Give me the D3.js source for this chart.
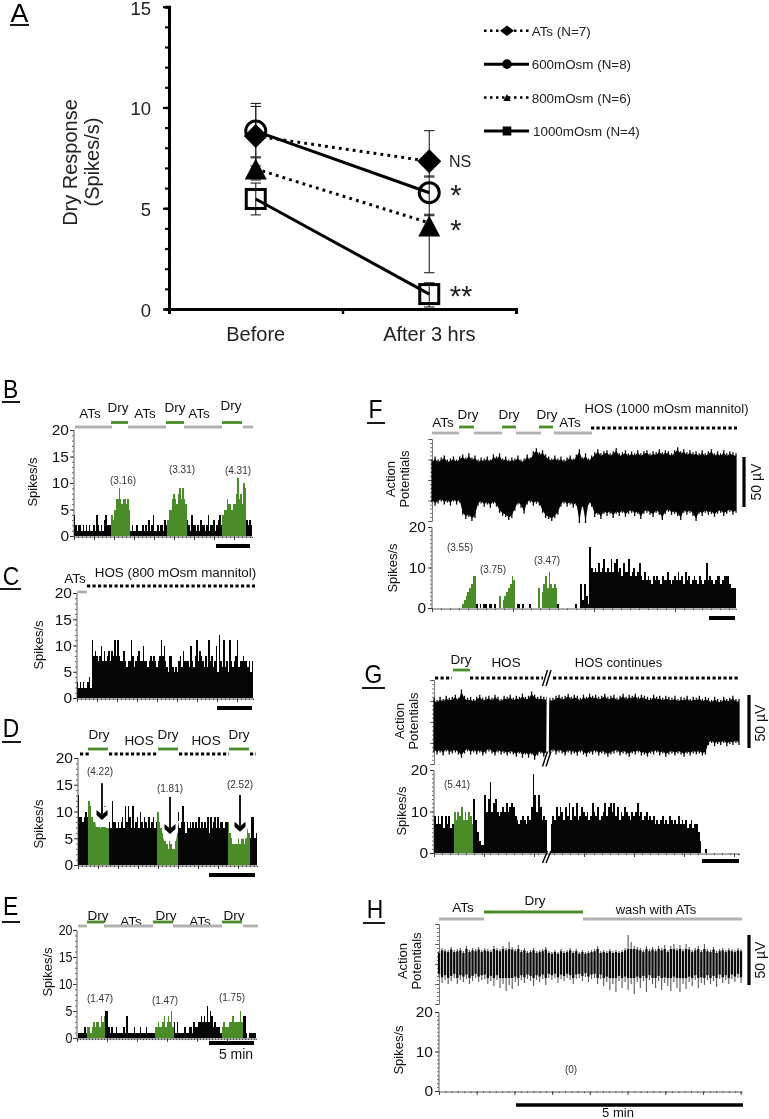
<!DOCTYPE html>
<html><head><meta charset="utf-8">
<script src="https://cdn.jsdelivr.net/npm/d3@7"></script>
<style>html,body{margin:0;padding:0;background:#fff}svg{display:block;filter:blur(.4px)}text{font-family:"Liberation Sans",Arial,sans-serif;fill:#111}</style>
</head><body><svg id="c" width="769" height="1119"></svg>
<script>
// ---------- Panel A data ----------
const conditions = ["Before","After 3 hrs"];
const seriesNames = ["ATs (N=7)","600mOsm (N=8)","800mOsm (N=6)","1000mOsm (N=4)"];
const atsMean=[8.58,7.33], atsHi=[10.05,8.85], atsLo=[7.1,6.55];
const m600Mean=[8.83,5.77], m600Hi=[10.2,6.6], m600Lo=[7.5,4.63];
const m800Mean=[6.95,4.27], m800Hi=[7.55,4.7], m800Lo=[6.4,1.8];
const m1000Mean=[5.46,0.74], m1000Hi=[6.25,1.3], m1000Lo=[4.67,0.1];
const yTicksA=[0,5,10,15];
// ---------- Histograms (spikes/s per bin) ----------
const binsB=[4,2,1,2,2,1,2,1,2,1,2,1,1,2,1,4,2,1,2,1,3,4,2,2,2,4, 3,5,7,7,9,7,6,7,7,6,7,5, 1,2,1,1,2,1,1,1,2,1,2,1,3,1,2,4,1,1,2,1,2,2,1,3,2, 3,5,5,7,8,7,6,8,9,7,9,7,6, 3,2,1,4,2,2,1,2,1,3,2,2,1,2,4,1,2,2,3,1,2,3,4,2, 4,5,5,7,6,6,5,6,6,8,11,7,8,6,10,9, 3,2,3,2];
const binsC=[3,2,3,2,3,2,2,3,4,2, 11,8,9,8,7,8,10,7,9,7,8,9,7,9,8,11,8,11,8,7,7,9,7,6,7,7,11,8,6,7,8,9,7,7,10,7,7,6,7,8,7,8,7,6,7,8,11,8,10,7,6,5,8,8,6,5,6,5,7,8,6,9,7,7,7,6,10,7,6,8,11,7,9,8,7,6,8,6,11,7,8,6,7,10,5,12,7,6,11,6,7,5,11,7,6,7,8,11,6,7,7,8,7,7,6,7,5,7];
const binsD=[13,9,9,8,9,10,9, 12,11,9,8,8,8,9,8,7,8,8,11,7,7, 8,7,12,8,8,7,8,7,8,9,7,11,8,11,9,7,11,7,8,9,7,10,8,7,9,8,7,9,7,8,9,7,8, 10,8,7,6,5,5,4,3,5,4,3,3,5,6, 10,7,8,11,8,6,8,7,8,7,8,7,8,7,9,7,8,7,8,7,9,6,9,7,8,9,7,9,7,8,8,7,8,8, 8,6,5,4,4,4,4,5,4,6,5,4,5,7,6, 5,9,9,5,6];
const binsE=[0,1,1,1,1,2,1, 2,2,1,2,3,2,3,3,2,4,3,4, 5,5,2,1,2,1,1,2,1,1,1,1,2,1,4,1,1,1,1,2,1,1,1,2,1,1,1,2,1,1,1,1,1, 2,2,3,2,2,3,4,2,3,4,3,5,2, 3,1,3,1,1,1,1,2,1,1,2,2,1,3,2,2,3,3,4,3,4,3,6,3,5,4,2,3,2,2,2,1, 2,3,2,2,2,3,3,4,3,3,3,3,5,3, 4,4,1,0,1,1,1,1,1];
const binsF=[0,0,0,0,0,0,0,0,0,0,0,0,0,0,0,0,0, 1,2,3,4,5,6,8,8, 1,0,1,0,1,1,0,1,1,0,1,0,0, 3,0,2,3,4,5,6,8,7, 0,1,1,0,1,0,0,0,1,0,0,0,0, 5,0,4,6,8,5,9,6,5,6,5, 1,0,0,0,0,0,0,0,0,0,1,0,0,6,2,6,3,1, 15,10,9,10,9,11,9,10,12,9,10,9,12,9,11,12,9,10,8,11,9,9,12,8,9,10,8,9,11,8,7,9,7,8,7,6,8,7,8,7,6,8,7,7,9,7,6,7,8,7,9,7,8,6,9,7,8,6,7,8,7,6,8,7,6,7,11,7,8,7,6,7,8,8,6,7,8,8,8,6,5,5,5];
const binsG=[9,7,9,7,9,6,9,7,9,6,7, 10,8,10,9,11,8,10,8,10,9,7, 13,8,5,3,2,2, 14,10,13,17,10,12,13,10,9,10,11,10,12,10,11,12,11,9,8,7,8,9,8,7,9,8,11,19,14,10,14,11,8,9, 8,0,0, 7,9,8,11,9,11,10,8,11,9,12,8,11,9,12,8,9,11,10,9,10,8,9,12,10,9,11,8,9,10,12,9,11,12,10,12,9,11,8,10,9,11,10,9,8,10,9,10,12,9,10,8,9,10,8,9,8,9,7,8,7,8,9,7,8,7,9,8,7,8,7,9,7,8,7,8,6,7,8,6,7,7,5,3, 0,0,1,0,0,0,0,0,0,0,0,0,0,0,0,0,0,0,0,0,0];
const binsH=[];
// Dry windows, in time units on each panel's x axis
const dryB=[[37.5,56.5],[93,112.5],[148,171.5]];
const dryD=[[10,31],[79.5,100.5],[149,171.5]];
const dryE=[[10,28.5],[77,97],[144.5,165.5]];
const dryF=[[30,44],[67,84],[106,126]];
const dryG=[[19.5,39]];
// Treatment header bars: [kind, start, end]
const headB=[["ats",1,38],["dry",37,54],["ats",54,92],["dry",92,110],["ats",110,148],["dry",148,168],["ats",169,179]];
const headC=[["ats",0,10],["hos",10,178]];
const headD=[["hos",2,12],["dry",10,30],["hos",31,80],["dry",80,100],["hos",101,151],["dry",151,171],["hos",172,178]];
const headE=[["ats",1,10],["dry",10,27],["ats",27,76],["dry",76,96],["ats",96,145],["dry",145,165],["ats",166,181]];
const headF=[["ats",0,27],["dry",27,42],["ats",42,70],["dry",70,84],["ats",84,109],["dry",107,121],["ats",122,160],["hos",159,305]];
const headG=[["hos",1,18],["dry",19,36],["hos",36,109],["hos",119,304]];
const headH=[["ats",0,45],["dry",45,144],["ats",144,303]];
// Arrows in panel D: [time, from spikes/s, to spikes/s]
const arrowsD=[[24,15.3,8.4],[92,12.7,5.8],[162,13.1,6.2]];
// Voltage traces: upper / lower envelope (µV)
const upperF=[20,23,20,22,24,20,21,23,20,23,25,22,26,22,24,20,22,21,23,20,25,23,26,21,23,20,22,21,24,20,21,25,22,28,31,27,29,25,23,21,24,21,23,20,22,24,21,25,30,22,26,21,24, 27,30,26,28,29,26,28,31,26,27,29,26,28,26,29,26,28,29,26,28,27,30,27,29,28,26,29,32,28,30,27,29,27,28,26,29,26,28,30,26,28,26,29,26,28,27,26];
const lowerF=[-22,-25,-23,-21,-24,-22,-25,-21,-24,-22,-34,-38,-36,-40,-37,-25,-23,-26,-24,-27,-23,-26,-32,-35,-36,-39,-37,-30,-24,-27,-33,-24,-22,-25,-23,-25,-32,-37,-38,-40,-37,-34,-26,-23,-26,-24,-27,-25,-42,-26,-42,-24,-26, -36,-34,-38,-33,-35,-33,-37,-33,-35,-32,-36,-33,-32,-35,-33,-38,-33,-32,-34,-36,-32,-34,-39,-33,-31,-34,-33,-35,-39,-32,-34,-32,-35,-40,-33,-35,-32,-34,-33,-36,-33,-32,-35,-33,-31,-34,-32];
const upperG=[23,21,24,22,25,23,24,26,23,31,25,23,24,22,24,26,23,24,25,23,26,24,22,25,24,26,23,25,24,27,24,25,29,26,24,25,24,24,23, 23,25,26,24,25,27,24,26,25,23,26,24,27,25,26,24,25,27,24,25,26,23,25,27,24,26,25,27,24,26,25,24,23,26,24,25,23,25,24,23,25,22,24,23,25,22,24,23,25,22,24, 23,21,24,22,21,24,22,23,25,22,22];
const lowerG=[-29,-31,-29,-32,-28,-31,-30,-29,-31,-34,-30,-28,-31,-29,-31,-29,-32,-30,-28,-30,-32,-29,-31,-30,-32,-30,-31,-33,-30,-34,-31,-34,-31,-36,-32,-30,-33,-31,-31, -28,-31,-29,-30,-32,-29,-31,-30,-32,-29,-31,-33,-30,-31,-29,-32,-30,-31,-33,-31,-30,-29,-32,-30,-31,-33,-30,-31,-29,-32,-31,-33,-30,-31,-29,-32,-30,-33,-31,-30,-32,-30,-31,-33,-30,-32,-30,-31,-30,-32,-31, -22,-20,-23,-21,-22,-20,-23,-21,-22,-20,-22];
const upperH=[13,16,15,14,17,14,15,16,13,18,14,16,15,17,14,16,15,14,18,16,15,18,16,22,17,15,19,14,16,13,14,16,13,14,15,17,13,12,14,12,15,13,14,16,13,15,12,14,12,13,14,15,18,13,14,13,15,13,14,13,14,16,29,22,18,17,16,14,18,15,17,15,18,16,19,14,18,20,16,19,15,20,17,14,16,18,14,20,15,14,17,13,15,16,14,16,15,14,16,15];
const lowerH=[-14,-19,-16,-20,-17,-14,-20,-16,-18,-15,-20,-17,-14,-18,-16,-15,-20,-17,-22,-16,-24,-20,-27,-21,-25,-18,-22,-16,-19,-15,-17,-22,-16,-18,-15,-21,-14,-16,-14,-19,-15,-17,-14,-16,-20,-15,-14,-17,-13,-18,-15,-14,-20,-15,-22,-18,-26,-20,-28,-17,-24,-18,-26,-20,-30,-18,-24,-17,-28,-16,-20,-24,-17,-26,-19,-22,-27,-18,-24,-28,-20,-25,-18,-22,-16,-24,-19,-21,-16,-20,-17,-23,-15,-19,-16,-20,-15,-18,-14,-19];

const svg=d3.select("#c");
const GRAY="#b1b1b1",GREEN="#4a8c28",DARK="#050505";

function label(x,y,s,o={}){
  const size=o.size||13.5,sx=o.sx||1,rot=o.rot||0;
  return svg.append("text").attr("transform",`translate(${x},${y})`+(rot?` rotate(${rot})`:"")+` scale(${sx},1)`)
    .attr("text-anchor",o.anchor||"middle").attr("font-size",size).style("fill",o.fill||"#111").text(s);
}
function rule(x1,y1,x2,y2,w,c){svg.append("line").attr("x1",x1).attr("y1",y1).attr("x2",x2).attr("y2",y2).attr("stroke",c||"#000").attr("stroke-width",w||1);}
function letter(s,x,base,ux1,ux2,uy,size,sx){label(x,base,s,{size:size||26,sx:sx||.88,fill:"#000"});rule(ux1,uy,ux2,uy,1.8);}

// ---------- Panel A ----------
(function(){
  const y=d3.scaleLinear([0,15],[309,6.7]);
  const band=d3.scaleBand(conditions,[169,516]);
  const edge=d3.scaleLinear([0,2],[169,516]);
  const g=svg.append("g");
  const mi=g.append("g").attr("transform","translate(169,0)").call(d3.axisLeft(y).tickValues(d3.range(0,16)).tickSize(4).tickFormat(""));
  mi.selectAll("path").attr("stroke-width",3).attr("stroke","#000");
  mi.selectAll("line").attr("stroke-width",2.2).attr("stroke","#111");
  const ma=g.append("g").attr("transform","translate(169,0)").call(d3.axisLeft(y).tickValues(yTicksA).tickSize(6).tickPadding(12));
  ma.select("path").remove();ma.selectAll("line").attr("stroke-width",2.2);
  ma.selectAll("text").attr("font-size",18.5).attr("font-family",null).attr("dy","0.4em").style("fill","#222");
  const xa=g.append("g").attr("transform","translate(0,309)").call(d3.axisBottom(edge).tickValues([0,1,2]).tickSize(5).tickFormat(""));
  xa.selectAll("path").attr("stroke-width",3);xa.selectAll("line").attr("stroke-width",2.4);
  conditions.forEach(c=>label(band(c)+band.bandwidth()/2,341,c,{size:20,fill:"#222"}));
  label(76.5,162.5,"Dry Response",{size:20,rot:-90,fill:"#222"});
  label(99,162,"(Spikes/s)",{size:20,rot:-90,fill:"#222"});
  const cx=c=>band(c)+band.bandwidth()/2;
  const line=d3.line().x((d,i)=>cx(conditions[i])).y(d=>y(d));
  const series=[
    {m:atsMean,hi:atsHi,lo:atsLo,dash:"2.8 4.2",shape:"d"},
    {m:m800Mean,hi:m800Hi,lo:m800Lo,dash:"2.8 4.2",shape:"t"},
    {m:m1000Mean,hi:m1000Hi,lo:m1000Lo,dash:null,shape:"s"},
    {m:m600Mean,hi:m600Hi,lo:m600Lo,dash:null,shape:"c"}];
  series.forEach(s=>s.m.forEach((v,i)=>{
    const x=cx(conditions[i]);
    rule(x,y(s.lo[i]),x,y(s.hi[i]),1.1,"#222");
    [s.lo[i],s.hi[i]].forEach(u=>rule(x-5.2,y(u),x+5.2,y(u),1.1,"#222"));
  }));
  function marker(shape,x,yy,hw,hh){
    if(shape=="d")svg.append("path").attr("d",`M${x},${yy-hh}L${x+hw},${yy}L${x},${yy+hh}L${x-hw},${yy}Z`).attr("fill","#000");
    if(shape=="t")svg.append("path").attr("d",`M${x},${yy-hh}L${x+hw},${yy+hh}L${x-hw},${yy+hh}Z`).attr("fill","#000");
    if(shape=="s")svg.append("rect").attr("x",x-hw+1.5).attr("y",yy-hh+1.5).attr("width",2*hw-3).attr("height",2*hh-3).attr("fill","none").attr("stroke","#000").attr("stroke-width",3);
    if(shape=="c")svg.append("ellipse").attr("cx",x).attr("cy",yy).attr("rx",hw-1.5).attr("ry",hh-1.5).attr("fill","none").attr("stroke","#000").attr("stroke-width",3);
  }
  const bigSize={d:[12,12],c:[11.5,11.5],t:[11,10.5],s:[11,11]};
  [series[3],series[0],series[1],series[2]].forEach(s=>{
    s.m.forEach((v,i)=>marker(s.shape,cx(conditions[i]),y(v)-(s.shape=="t"&&i==1?-3:0),...bigSize[s.shape]));
    svg.append("path").attr("d",line(s.m)).attr("fill","none").attr("stroke","#000").attr("stroke-width",3).attr("stroke-dasharray",s.dash);
  });
  label(449,166.7,"NS",{size:16,anchor:"start",fill:"#222"});
  label(456,205,"*",{size:29,fill:"#222"});label(456,240,"*",{size:29,fill:"#222"});label(461,306,"**",{size:29,fill:"#222"});
  const legY=d3.scalePoint(seriesNames,[30.7,131]);
  const shapes=["d","c","t","s"],dashes=["2.5 3.5",null,"2.5 3.5",null];
  const legSize={d:[7,5.3],c:[4.8,4.8],t:[3.7,3.5],s:[4.3,4.5]};
  seriesNames.forEach((n,i)=>{
    const yy=legY(n);
    svg.append("line").attr("x1",484).attr("x2",529).attr("y1",yy).attr("y2",yy).attr("stroke","#000").attr("stroke-width",dashes[i]?2.4:3).attr("stroke-dasharray",dashes[i]);
    if(shapes[i]=="c")svg.append("circle").attr("cx",507).attr("cy",yy).attr("r",4.8);
    else if(shapes[i]=="s")svg.append("rect").attr("x",507-4.3).attr("y",yy-4.5).attr("width",8.6).attr("height",9);
    else marker(shapes[i],507,yy,...legSize[shapes[i]]);
    label(i==3?533:531.7,yy+5,n,{size:13.4,anchor:"start",fill:"#222"});
  });
})();
letter("A",19.5,21.7,10,29,25,26,1.03);

// ---------- Histogram + header helpers ----------
function header(segs,x,rows){
  segs.forEach(([k,a,b])=>{
    const l=svg.append("line").attr("x1",x(a)).attr("x2",x(b)).attr("y1",rows[k]).attr("y2",rows[k])
      .attr("stroke",k=="ats"?GRAY:k=="dry"?GREEN:"#000").attr("stroke-width",k=="hos"?3:2.8);
    if(k=="hos")l.attr("stroke-dasharray","3.2 2.3");
  });
}
function hist(o){
  const {bins,dry,T,x0,y20,y0}=o;
  const x=d3.scaleLinear([0,T],[x0,x0+T]);
  const y=d3.scaleLinear([0,20],[y0,y20]);
  const w=T/(bins.length||1);
  const isDry=t=>(dry||[]).some(([a,b])=>t>=a&&t<b);
  svg.append("g").attr("shape-rendering","crispEdges").selectAll("rect").data(bins).join("rect")
    .attr("x",(d,i)=>x(i*w)).attr("width",w).attr("y",d=>y(d)).attr("height",d=>y(0)-y(d))
    .attr("fill",(d,i)=>isDry((i+.5)*w)?GREEN:DARK);
  const axC="#333";
  const ymin=svg.append("g").attr("transform",`translate(${x0-.5},0)`).call(d3.axisLeft(y).tickValues(d3.range(0,21,1)).tickSize(1.5).tickFormat(""));
  ymin.selectAll("path,line").attr("stroke",axC).attr("stroke-width",.8);
  const ymaj=svg.append("g").attr("transform",`translate(${x0-.5},0)`).call(d3.axisLeft(y).tickValues(o.major).tickSize(3.5).tickPadding(o.pad||1));
  ymaj.select("path").remove();ymaj.selectAll("line").attr("stroke",axC);
  const tl=ymaj.selectAll("text").attr("font-size",o.fs||15.5).style("fill","#111");
  if(o.tsx)tl.attr("transform",`scale(${o.tsx},1)`).attr("x",-(3.5+(o.pad||1))/o.tsx);
  const xa=svg.append("g").attr("transform",`translate(0,${y0+.5})`).call(d3.axisBottom(x).tickValues(d3.range(0,T+1,o.xminor||6)).tickSize(1.6).tickFormat(""));
  xa.selectAll("path,line").attr("stroke",axC).attr("stroke-width",.8);
  const xb=svg.append("g").attr("transform",`translate(0,${y0+.5})`).call(d3.axisBottom(x).tickValues(d3.range(0,T+1,o.xmajor||30)).tickSize(3.5).tickFormat(""));
  xb.select("path").remove();xb.selectAll("line").attr("stroke",axC).attr("stroke-width",.9);
  return {x,y};
}
function trace(upper,lower,x0,T,yTop,yBot){
  const x=d3.scaleLinear([0,T],[x0,x0+T]);
  const y=d3.scaleLinear([-40,40],[yBot,yTop]);
  const w=T/(upper.length-1);
  const ax=svg.append("g").attr("transform",`translate(${x0},0)`).call(d3.axisLeft(y).tickValues(d3.range(-40,41,4)).tickSize(2).tickFormat(""));
  ax.selectAll("path,line").attr("stroke","#555").attr("stroke-width",.8);
  const bx=svg.append("g").attr("transform",`translate(${x0},0)`).call(d3.axisLeft(y).tickValues(d3.range(-40,41,20)).tickSize(4).tickFormat(""));
  bx.select("path").remove();bx.selectAll("line").attr("stroke","#444").attr("stroke-width",.8);
  return {x,y,w};
}
// dense trace: a solid inner band plus one thin vertical stroke per sample, so the edge stays jagged
function denseTrace(t,upper,lower){
  const inner=d3.area().x((d,i)=>t.x(i*t.w)).y1(d=>t.y(d-2.5)).y0((d,i)=>t.y(lower[i]+2.5));
  svg.append("path").attr("d",inner(upper)).attr("fill",DARK);
  svg.append("g").selectAll("line").data(upper).join("line")
    .attr("x1",(d,i)=>t.x(i*t.w)).attr("x2",(d,i)=>t.x(i*t.w)).attr("y1",d=>t.y(d)).attr("y2",(d,i)=>t.y(lower[i]))
    .attr("stroke",DARK).attr("stroke-width",1.3);
}
function scaleBar(x1,x2,yy,th){rule(x1,yy,x2,yy,th||4);}
function spikesLabel(x,y,s){label(x+3.5,y,s||"Spikes/s",{size:13,rot:-90,fill:"#111"});}
function apLabel(x1,x2,y){label(x1+3.5,y,"Action",{size:13,rot:-90});label(x2+3.5,y,"Potentials",{size:13,rot:-90});}
function note(x,y,s){label(x,y,s,{size:10,fill:"#333"});}
function uv(xb,y1,y2,xt,yt){rule(xb,y1,xb,y2,3.2);label(xt,yt,"50 µV",{size:14,rot:-90});}

// ---------- B ----------
(function(){
  const {x}=hist({bins:binsB,dry:dryB,T:178,x0:74,y20:430,y0:536,major:[0,5,10,15,20],xminor:4,xmajor:20});
  header(headB,x,{ats:427,dry:422.5});
  label(90,418,"ATs");label(118,412,"Dry");label(145,418,"ATs");label(175,412,"Dry");label(199,418,"ATs");label(231,410,"Dry");
  note(123,484,"(3.16)");note(182,473,"(3.31)");note(238,474,"(4.31)");
  scaleBar(216,250,546);spikesLabel(33,482);
})();
letter("B",10.5,398,2,20,402);
// ---------- C ----------
(function(){
  const {x}=hist({bins:binsC,T:176,x0:77,y20:593,y0:698,major:[0,5,10,15,20],xminor:4,xmajor:20});
  header(headC,x,{ats:592,hos:586});
  label(75,583,"ATs");label(175.5,577,"HOS (800 mOsm mannitol)",{size:13.4});
  scaleBar(217,252,708);spikesLabel(39,645);
})();
letter("C",11,585,0,21,589);
// ---------- D ----------
(function(){
  const {x,y}=hist({bins:binsD,dry:dryD,T:179,x0:78,y20:758,y0:865,major:[0,5,10,15,20],xminor:4,xmajor:20,pad:1});
  header(headD,x,{hos:754,dry:749});
  label(99,739,"Dry");label(139,745,"HOS");label(168,739,"Dry");label(206,745,"HOS");label(239,739,"Dry");
  note(100,775,"(4.22)");note(170,792,"(1.81)");note(240,788,"(2.52)");
  arrowsD.forEach(([t,a,b])=>{
    const X=x(t),Y1=y(a),Y2=y(b);
    svg.append("path").attr("d",`M${X-9},${Y2-13}L${X+9},${Y2-13}L${X+6},${Y2+7}L${X-6},${Y2+7}Z`).attr("fill","#fff");
    rule(X,Y1,X,Y2-6,1.8);
    svg.append("path").attr("d",`M${X-5.5},${Y2-10}L${X},${Y2-5.5}L${X+5.5},${Y2-10}L${X+5.5},${Y2-5}L${X},${Y2}L${X-5.5},${Y2-5}Z`).attr("fill","#000");
  });
  scaleBar(209,255,875);spikesLabel(39,824);
})();
letter("D",11,737,2,21,742);
// ---------- E ----------
(function(){
  label(98,920,"Dry");label(131,926,"ATs");label(166,920,"Dry");label(200,926,"ATs");label(234,920,"Dry");
  const {x}=hist({bins:binsE,dry:dryE,T:179,x0:77,y20:930,y0:1038,major:[0,5,10,15,20],xminor:3,xmajor:30,fs:15.5,tsx:.8,pad:.5});
  header(headE,x,{ats:926,dry:922});
  note(100,1002,"(1.47)");note(165,1004,"(1.47)");note(232,1001,"(1.75)");
  scaleBar(209,254,1043);label(236,1059,"5 min",{size:14});spikesLabel(48,972);
})();
letter("E",10.5,915,2,20,922);
// ---------- F ----------
(function(){
  const t=trace(upperF,lowerF,432,304,439,521);
  denseTrace(t,upperF,lowerF);
  const {x}=hist({bins:binsF,dry:dryF,T:304,x0:432,y20:527,y0:608,major:[0,10,20],xminor:9,xmajor:81,pad:2});
  header(headF,x,{ats:433,dry:427,hos:428});
  label(443,427,"ATs");label(468,419,"Dry");label(509,419,"Dry");label(547,419,"Dry");label(570,427,"ATs");
  label(666.5,413,"HOS (1000 mOsm mannitol)",{size:13});
  note(460,551,"(3.55)");note(493,573,"(3.75)");note(547,564,"(3.47)");
  apLabel(391,405,479);uv(744,457,507,761,482);scaleBar(709,735,618);spikesLabel(393,568);
})();
letter("F",375.5,418,367,385,423);
// ---------- G ----------
(function(){
  const t=trace(upperG,lowerG,434,305,680,764);
  denseTrace(t,upperG,lowerG);
  const {x}=hist({bins:binsG,dry:dryG,T:305,x0:434,y20:770,y0:853,major:[0,10,20],xminor:8,xmajor:50,pad:2});
  header(headG,x,{hos:678,dry:670});
  label(461,664,"Dry");label(506,667,"HOS");label(618.5,667,"HOS continues",{size:13});
  note(457,788,"(5.41)");
  rule(x(114),694,x(113.5),759,2.6,"#fff");
  const slash=(yy,h)=>{[0,3.5].forEach(d=>rule(x(111)+d-2.5,yy+h/2,x(111)+d+2.5,yy-h/2,1.4));};
  slash(678,16);slash(759,15);slash(857,12);
  apLabel(400,414,721);uv(749,695,748,764.5,723);scaleBar(702,739,861);spikesLabel(402,811);
})();
letter("G",373.5,683,362,385,688);
// ---------- H ----------
(function(){
  const t=trace(upperH,lowerH,439,302,924,1004);
  const s=svg.append("g");
  s.selectAll("line.o").data(upperH).join("line").attr("class","o")
    .attr("x1",(d,i)=>t.x(i*t.w)).attr("x2",(d,i)=>t.x(i*t.w)).attr("y1",d=>t.y(d)).attr("y2",(d,i)=>t.y(lowerH[i]))
    .attr("stroke","#555").attr("stroke-width",1.1);
  s.selectAll("line.c").data(upperH).join("line").attr("class","c")
    .attr("x1",(d,i)=>t.x(i*t.w)).attr("x2",(d,i)=>t.x(i*t.w)).attr("y1",d=>t.y(Math.min(d*.85,15))).attr("y2",(d,i)=>t.y(Math.max(lowerH[i]*.7,-14)))
    .attr("stroke","#0c0c0c").attr("stroke-width",2.3);
  const {x}=hist({bins:binsH,T:302,x0:439,y20:1012,y0:1091,major:[0,10,20],xminor:6.3,xmajor:37.7,pad:2});
  header(headH,x,{ats:919,dry:912});
  label(463,912,"ATs");label(535,905,"Dry");label(656,914,"wash with ATs",{size:13});
  note(571,1073,"(0)");
  apLabel(403,417,961);uv(749,935,985,764.5,960);scaleBar(516,743,1105,3.4);label(618,1116.5,"5 min",{size:13});spikesLabel(399,1050);
})();
letter("H",375,918,363,385,923);
</script></body></html>
